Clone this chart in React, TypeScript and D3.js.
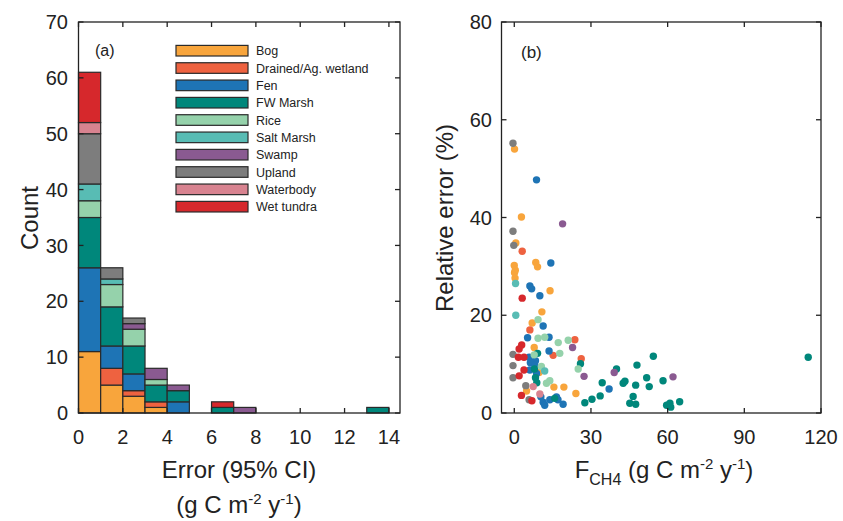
import React from 'react';
import * as d3 from 'd3';

const categories = ['Bog', 'Drained/Ag. wetland', 'Fen', 'FW Marsh', 'Rice', 'Salt Marsh', 'Swamp', 'Upland', 'Waterbody', 'Wet tundra'];
const colors = ['#F8A53C', '#EE6240', '#1E74B5', '#00877B', '#95D2AB', '#58BCB4', '#8A5A91', '#7D7D7D', '#D88390', '#D6282C'];

// histogram bins: [0,1), [1,2), ... [13,14)
const binStarts = [0, 1, 2, 3, 4, 5, 6, 7, 8, 9, 10, 11, 12, 13];
const bogCounts = [11, 5, 3, 1, 0, 0, 0, 0, 0, 0, 0, 0, 0, 0];
const drainedCounts = [0, 3, 1, 1, 0, 0, 0, 0, 0, 0, 0, 0, 0, 0];
const fenCounts = [15, 4, 3, 0, 2, 0, 0, 0, 0, 0, 0, 0, 0, 0];
const fwCounts = [9, 7, 5, 3, 2, 0, 1, 0, 0, 0, 0, 0, 0, 1];
const riceCounts = [3, 4, 3, 1, 0, 0, 0, 0, 0, 0, 0, 0, 0, 0];
const saltCounts = [3, 1, 0, 0, 0, 0, 0, 0, 0, 0, 0, 0, 0, 0];
const swampCounts = [0, 0, 1, 2, 1, 0, 0, 1, 0, 0, 0, 0, 0, 0];
const uplandCounts = [9, 2, 1, 0, 0, 0, 0, 0, 0, 0, 0, 0, 0, 0];
const waterCounts = [2, 0, 0, 0, 0, 0, 0, 0, 0, 0, 0, 0, 0, 0];
const tundraCounts = [9, 0, 0, 0, 0, 0, 1, 0, 0, 0, 0, 0, 0, 0];

// scatter: [F_CH4, relative error %]
const bogPts = [[0.1, 54], [2.8, 40.1], [0.6, 34.8], [8.4, 30.8], [9.1, 29.9], [0, 30.2], [0.1, 28.7], [0.3, 27.6], [0.4, 29.2], [14, 25], [10.8, 20.7], [7, 18.4], [7.8, 13.4], [9.7, 8.3], [15.5, 5.3], [19.4, 5.3], [24.1, 4], [4.8, 4.5]];
const drainedPts = [[3.1, 33.1], [6.1, 17], [23.7, 15], [15.2, 11.8], [26.2, 11.1]];
const fenPts = [[8.7, 47.7], [14.3, 30.7], [6.1, 26], [6.8, 25.4], [10, 24], [11.3, 17.8], [5.2, 15.4], [13.6, 15.5], [13.6, 12.7], [5.8, 11.4], [8.3, 10.7], [6.3, 10.3], [8, 9.8], [6.1, 8.8], [8.7, 8.1], [37.1, 4.9], [10.4, 3.3], [11.3, 2.2], [13.9, 2.7], [16.5, 3.3], [17.1, 2.7], [19.1, 1.8], [11.9, 1.6]];
const fwPts = [[9.1, 12.2], [25.9, 10.1], [7.9, 9], [40, 9], [54.4, 11.6], [48, 9.8], [51.8, 7.2], [8.3, 7.2], [8.8, 6.2], [34.4, 6.2], [42.6, 6.1], [43.3, 6.5], [47.5, 5.7], [52.8, 5.4], [58.2, 6.6], [33.6, 3.5], [30.4, 2.8], [27.6, 2.1], [46.5, 3.4], [45.2, 2], [47.5, 1.8], [15.8, 3], [59.6, 1.6], [60.9, 2], [61.2, 1.2], [64.7, 2.3], [115, 11.4]];
const ricePts = [[9.3, 19.1], [9.3, 15.3], [11.9, 15.5], [17.2, 14.4], [21.1, 14.9], [7.8, 11.9], [17.8, 12.2], [10.6, 9.5], [25, 9], [13.9, 6.6], [12.6, 6.1]];
const saltPts = [[0.5, 26.5], [0.6, 20], [11.9, 8.6]];
const swampPts = [[18.9, 38.7], [22.8, 13.4], [27.3, 7.5], [39.1, 8.3], [62.1, 7.4]];
const uplandPts = [[-0.5, 55.2], [-0.5, 37.2], [-0.2, 34.3], [-0.5, 12], [-0.5, 9.7], [-0.5, 7.2], [4.5, 5.6], [5.8, 2.7]];
const waterPts = [[7.4, 5.4], [10, 3.9]];
const tundraPts = [[3.1, 23.5], [2.9, 13.9], [1.9, 13.1], [1.6, 11.4], [3.8, 11.4], [3.8, 8.8], [1.9, 7.6], [2.8, 3.6], [6.9, 2.5]];

const leftYTicks = [0, 10, 20, 30, 40, 50, 60, 70];
const leftXTicks = [0, 2, 4, 6, 8, 10, 12, 14];
const rightYTicks = [0, 20, 40, 60, 80];
const rightXTicks = [0, 30, 60, 90, 120];

const countsByCat = [bogCounts, drainedCounts, fenCounts, fwCounts, riceCounts, saltCounts, swampCounts, uplandCounts, waterCounts, tundraCounts];
const ptsByCat = [bogPts, drainedPts, fenPts, fwPts, ricePts, saltPts, swampPts, uplandPts, waterPts, tundraPts];

const FONT = '"Liberation Sans", Arial, Helvetica, sans-serif';
const TICK = 5;

export default function App() {
  const top = 22, bottom = 413;
  const xL = d3.scaleLinear().domain([0, 14.5]).range([78.5, 400]);
  const yL = d3.scaleLinear().domain([0, 70]).range([bottom, top]);
  const xR = d3.scaleLinear().domain([-5, 120]).range([501.5, 821]);
  const yR = d3.scaleLinear().domain([0, 80]).range([bottom, top]);

  const rows = binStarts.map((b, i) => {
    const r: any = { bin: b };
    categories.forEach((c, k) => { r[c] = countsByCat[k][i]; });
    return r;
  });
  const stack = d3.stack().keys(categories)(rows as any);

  const frame = (x: any, y: any, xt: number[], yt: number[]) => {
    const [x0, x1] = x.range();
    const [y0, y1] = y.range();
    return (
      <g stroke="#222" strokeWidth={1.3} fill="none">
        <rect x={x0} y={y1} width={x1 - x0} height={y0 - y1} />
        {xt.map(t => (
          <g key={'x' + t}>
            <line x1={x(t)} x2={x(t)} y1={y0} y2={y0 - TICK} />
            <line x1={x(t)} x2={x(t)} y1={y1} y2={y1 + TICK} />
          </g>
        ))}
        {yt.map(t => (
          <g key={'y' + t}>
            <line x1={x0} x2={x0 + TICK} y1={y(t)} y2={y(t)} />
            <line x1={x1} x2={x1 - TICK} y1={y(t)} y2={y(t)} />
          </g>
        ))}
      </g>
    );
  };

  const tickLabels = (x: any, y: any, xt: number[], yt: number[], yEnd: number) => (
    <g fontFamily={FONT} fontSize={20} fill="#222">
      {xt.map(t => (
        <text key={'xl' + t} x={x(t)} y={444} textAnchor="middle">{t}</text>
      ))}
      {yt.map(t => (
        <text key={'yl' + t} x={yEnd} y={y(t)} dy="0.36em" textAnchor="end">{t}</text>
      ))}
    </g>
  );

  return (
    <svg width={843} height={521} style={{ position: 'absolute', left: 0, top: 0, background: '#fff' }}>
      <rect x={0} y={0} width={843} height={521} fill="#fff" />
      {/* Panel (a) */}
      <g>
        {stack.map((s: any, k: number) => (
          <g key={categories[k]} fill={colors[k]} stroke="#2a2a2a" strokeWidth={1.2}>
            {s.map((d: any, i: number) =>
              d[1] - d[0] > 0 ? (
                <rect key={i} x={xL(binStarts[i])} width={xL(binStarts[i] + 1) - xL(binStarts[i])}
                  y={yL(d[1])} height={yL(d[0]) - yL(d[1])} />
              ) : null
            )}
          </g>
        ))}
        {frame(xL, yL, leftXTicks, leftYTicks)}
        {tickLabels(xL, yL, leftXTicks, leftYTicks, 68)}
        <text x={95} y={56} fontFamily={FONT} fontSize={16} fill="#222">(a)</text>
        <g fontFamily={FONT} fontSize={12.5} fill="#222">
          {categories.map((c, k) => {
            const cy = 50.7 + k * 17.33;
            return (
              <g key={c}>
                <rect x={176} y={cy - 5.3} width={72} height={10.6} fill={colors[k]} stroke="#2a2a2a" strokeWidth={1.2} />
                <text x={256} y={cy} dy="0.36em">{c}</text>
              </g>
            );
          })}
        </g>
        <text transform="translate(38,218) rotate(-90)" textAnchor="middle" fontFamily={FONT} fontSize={24} fill="#222">Count</text>
        <text x={239} y={478} textAnchor="middle" fontFamily={FONT} fontSize={24} fill="#222">Error (95% CI)</text>
        <text x={239} y={513} textAnchor="middle" fontFamily={FONT} fontSize={24} fill="#222">
          (g C m<tspan dy={-9} fontSize={15}>-2</tspan><tspan dy={9}> y</tspan><tspan dy={-9} fontSize={15}>-1</tspan><tspan dy={9}>)</tspan>
        </text>
      </g>
      {/* Panel (b) */}
      <g>
        {ptsByCat.map((pts, k) => (
          <g key={categories[k]} fill={colors[k]}>
            {pts.map((p, i) => (
              <circle key={i} cx={xR(p[0])} cy={yR(p[1])} r={3.7} />
            ))}
          </g>
        ))}
        {frame(xR, yR, rightXTicks, rightYTicks)}
        {tickLabels(xR, yR, rightXTicks, rightYTicks, 492)}
        <text x={521} y={58} fontFamily={FONT} fontSize={17} fill="#222">(b)</text>
        <text transform="translate(453,218) rotate(-90)" textAnchor="middle" fontFamily={FONT} fontSize={24} fill="#222">Relative error (%)</text>
        <text x={664} y={478} textAnchor="middle" fontFamily={FONT} fontSize={24} fill="#222">
          F<tspan dy={7} fontSize={16}>CH4</tspan><tspan dy={-7}> (g C m</tspan><tspan dy={-9} fontSize={15}>-2</tspan><tspan dy={9}> y</tspan><tspan dy={-9} fontSize={15}>-1</tspan><tspan dy={9}>)</tspan>
        </text>
      </g>
    </svg>
  );
}
